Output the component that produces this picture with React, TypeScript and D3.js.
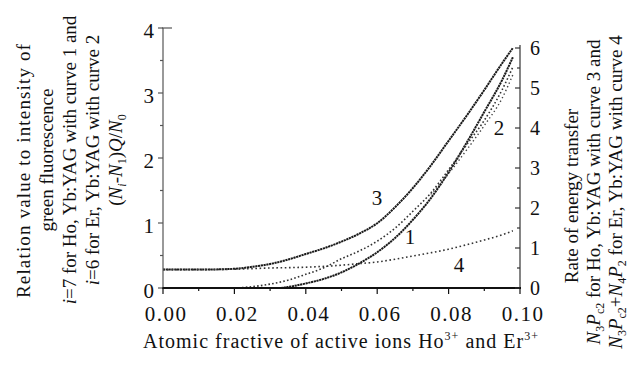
import React from "react";
import * as d3 from "d3";

// ---- data ----
const xTickValues = [0, 0.02, 0.04, 0.06, 0.08, 0.1];
const xTickLabels = ["0.00", "0.02", "0.04", "0.06", "0.08", "0.10"];
const xMinorValues = [0.01, 0.03, 0.05, 0.07, 0.09];
const leftTickValues = [0, 1, 2, 3, 4];
const leftMinorValues = [0.5, 1.5, 2.5, 3.5];
const rightTickValues = [0, 1, 2, 3, 4, 5, 6];
const rightMinorValues = [0.5, 1.5, 2.5, 3.5, 4.5, 5.5];

// curve 1 (left axis)
const x1 = [0.033, 0.035, 0.04, 0.045, 0.05, 0.055, 0.06, 0.065, 0.07, 0.075, 0.08, 0.085, 0.09, 0.095, 0.098];
const curve1 = [0, 0.015, 0.07, 0.14, 0.24, 0.38, 0.55, 0.77, 1.05, 1.38, 1.78, 2.23, 2.71, 3.2, 3.55];
// curve 2 (left axis)
const x2 = [0.02, 0.025, 0.03, 0.035, 0.04, 0.045, 0.05, 0.055, 0.06, 0.065, 0.07, 0.075, 0.08, 0.085, 0.09, 0.095, 0.098];
const curve2 = [0, 0.02, 0.06, 0.12, 0.21, 0.31, 0.45, 0.57, 0.72, 0.92, 1.18, 1.46, 1.82, 2.2, 2.58, 3.05, 3.4];
const x2b = [0.075, 0.08, 0.085, 0.09, 0.095, 0.098];
const curve2b = [1.44, 1.76, 2.12, 2.5, 2.92, 3.28];
// curve 3 (right axis)
const x3 = [0, 0.01, 0.02, 0.025, 0.03, 0.035, 0.04, 0.045, 0.05, 0.055, 0.06, 0.065, 0.07, 0.075, 0.08, 0.085, 0.09, 0.095, 0.098];
const curve3 = [0.46, 0.46, 0.48, 0.53, 0.6, 0.71, 0.85, 0.99, 1.16, 1.36, 1.62, 2.02, 2.5, 3.06, 3.68, 4.3, 4.95, 5.62, 6.0];
// curve 4 (right axis)
const x4 = [0, 0.01, 0.02, 0.03, 0.04, 0.05, 0.055, 0.06, 0.065, 0.07, 0.075, 0.08, 0.085, 0.09, 0.095, 0.098];
const curve4 = [0.46, 0.46, 0.47, 0.5, 0.52, 0.57, 0.61, 0.65, 0.72, 0.8, 0.88, 0.97, 1.08, 1.2, 1.33, 1.43];

const FONT = "'Liberation Serif', 'Times New Roman', serif";

export default function App() {
  const W = 632, H = 380;
  const x = d3.scaleLinear().domain([0, 0.1]).range([163, 520]);
  const yL = d3.scaleLinear().domain([0, 4]).range([288, 28]);
  const yR = d3.scaleLinear().domain([0, 6]).range([288, 48]);

  const mk = (xs: number[], ys: number[], s: d3.ScaleLinear<number, number>) =>
    d3.line<number>().x((_, i) => x(xs[i])).y((d) => s(d)).curve(d3.curveMonotoneX)(ys) || "";

  const x0 = x(0), x1p = x(0.1), yb = yL(0);

  return (
    <svg width={W} height={H} style={{ position: "absolute", left: 0, top: 0, background: "#fff" }} fontFamily={FONT}>
      <rect x={0} y={0} width={W} height={H} fill="#fff" />
      {/* curves */}
      <path d={mk(x3, curve3, yR)} fill="none" stroke="#1a1a1a" strokeWidth={2} strokeDasharray="2.2 0.6" />
      <path d={mk(x4, curve4, yR)} fill="none" stroke="#333" strokeWidth={1.6} strokeDasharray="1.6 2.6" />
      <path d={mk(x1, curve1, yL)} fill="none" stroke="#1a1a1a" strokeWidth={2} strokeDasharray="2.2 0.6" />
      <path d={mk(x2, curve2, yL)} fill="none" stroke="#333" strokeWidth={1.6} strokeDasharray="1.6 2.2" />
      <path d={mk(x2b, curve2b, yL)} fill="none" stroke="#444" strokeWidth={1.4} strokeDasharray="1.4 2.6" />

      {/* axes */}
      <line x1={x0} x2={x0} y1={yL(4)} y2={yb} stroke="#555" strokeWidth={1.2} />
      <line x1={x0 - 1} x2={x0 + 9} y1={yL(4)} y2={yL(4)} stroke="#555" strokeWidth={1.2} />
      <line x1={x1p} x2={x1p} y1={45} y2={yb} stroke="#333" strokeWidth={1.2} />
      <line x1={x0 - 1} x2={x1p + 1} y1={yb} y2={yb} stroke="#111" strokeWidth={2} />

      {/* left ticks */}
      {leftTickValues.map((v) => (
        <line key={"lt" + v} x1={x0 - 5} x2={x0} y1={yL(v)} y2={yL(v)} stroke="#555" strokeWidth={1.2} />
      ))}
      {leftMinorValues.map((v) => (
        <line key={"lm" + v} x1={x0 - 3} x2={x0} y1={yL(v)} y2={yL(v)} stroke="#555" strokeWidth={1.2} />
      ))}
      {leftTickValues.map((v) => (
        <text key={"ll" + v} x={x0 - 9} y={yL(v) + 10} textAnchor="end" fontSize={21} fill="#111">{v}</text>
      ))}

      {/* right ticks */}
      {rightTickValues.map((v) => (
        <line key={"rt" + v} x1={x1p - 5} x2={x1p} y1={yR(v)} y2={yR(v)} stroke="#333" strokeWidth={1.2} />
      ))}
      {rightMinorValues.map((v) => (
        <line key={"rm" + v} x1={x1p - 3} x2={x1p} y1={yR(v)} y2={yR(v)} stroke="#333" strokeWidth={1.2} />
      ))}
      {rightTickValues.map((v) => (
        <text key={"rl" + v} x={x1p + 10} y={yR(v) + 7} textAnchor="start" fontSize={20} fill="#111">{v}</text>
      ))}

      {/* bottom ticks */}
      {xTickValues.map((v) => (
        <line key={"bt" + v} x1={x(v)} x2={x(v)} y1={yb} y2={yb + 6} stroke="#111" strokeWidth={1.2} />
      ))}
      {xMinorValues.map((v) => (
        <line key={"bm" + v} x1={x(v)} x2={x(v)} y1={yb} y2={yb + 3} stroke="#111" strokeWidth={1.2} />
      ))}
      {xTickValues.map((v, i) => (
        <text key={"bl" + v} x={x(v) + 3} y={yb + 33} textAnchor="middle" fontSize={21} letterSpacing={1.5} fill="#111">{xTickLabels[i]}</text>
      ))}

      {/* curve labels */}
      <text x={377} y={205} textAnchor="middle" fontSize={21} fill="#111">3</text>
      <text x={410} y={244} textAnchor="middle" fontSize={21} fill="#111">1</text>
      <text x={499} y={135} textAnchor="middle" fontSize={21} fill="#111">2</text>
      <text x={459} y={272} textAnchor="middle" fontSize={21} fill="#111">4</text>

      {/* x title */}
      <text x={143} y={348} textAnchor="start" fontSize={20} fill="#111" textLength={395} lengthAdjust="spacing">
        Atomic fractive of active ions Ho<tspan dy={-8} fontSize={12}>3+</tspan>
        <tspan dy={8}> and Er</tspan><tspan dy={-8} fontSize={12}>3+</tspan>
      </text>

      {/* left title */}
      <g transform="translate(0,160) rotate(-90)" fontSize={19} fill="#111">
        <text x={-138} y={30} textAnchor="start" textLength={254} lengthAdjust="spacing">Relation value to intensity of</text>
        <text x={0} y={53} textAnchor="middle">green fluorescence</text>
        <text x={0} y={76} textAnchor="middle">
          <tspan fontStyle="italic">i</tspan>=7 for Ho, Yb:YAG with curve 1 and
        </text>
        <text x={0} y={99} textAnchor="middle">
          <tspan fontStyle="italic">i</tspan>=6 for Er, Yb:YAG with curve 2
        </text>
        <text x={0} y={122} textAnchor="middle">
          (<tspan fontStyle="italic">N</tspan><tspan fontStyle="italic" fontSize={12} dy={4}>i</tspan>
          <tspan dy={-4}>-</tspan><tspan fontStyle="italic">N</tspan><tspan fontSize={12} dy={4}>1</tspan>
          <tspan dy={-4}>)</tspan><tspan fontStyle="italic">Q</tspan>/<tspan fontStyle="italic">N</tspan>
          <tspan fontSize={12} dy={4}>0</tspan>
        </text>
      </g>

      {/* right title */}
      <g transform="translate(0,192) rotate(-90)" fontSize={19} fill="#111">
        <text x={0} y={578} textAnchor="middle" dx={-4}>Rate of energy transfer</text>
        <text x={0} y={600} textAnchor="middle">
          <tspan fontStyle="italic">N</tspan><tspan fontSize={12} dy={4}>3</tspan>
          <tspan dy={-4} fontStyle="italic">P</tspan><tspan fontSize={12} dy={4}>c2</tspan>
          <tspan dy={-4}> for Ho, Yb:YAG with curve 3 and</tspan>
        </text>
        <text x={0} y={622} textAnchor="middle">
          <tspan fontStyle="italic">N</tspan><tspan fontSize={12} dy={4}>3</tspan>
          <tspan dy={-4} fontStyle="italic">P</tspan><tspan fontSize={12} dy={4}>c2</tspan>
          <tspan dy={-4}>+</tspan><tspan fontStyle="italic">N</tspan><tspan fontSize={12} dy={4}>4</tspan>
          <tspan dy={-4} fontStyle="italic">P</tspan><tspan fontSize={12} dy={4}>2</tspan>
          <tspan dy={-4}> for Er, Yb:YAG with curve 4</tspan>
        </text>
      </g>
    </svg>
  );
}
